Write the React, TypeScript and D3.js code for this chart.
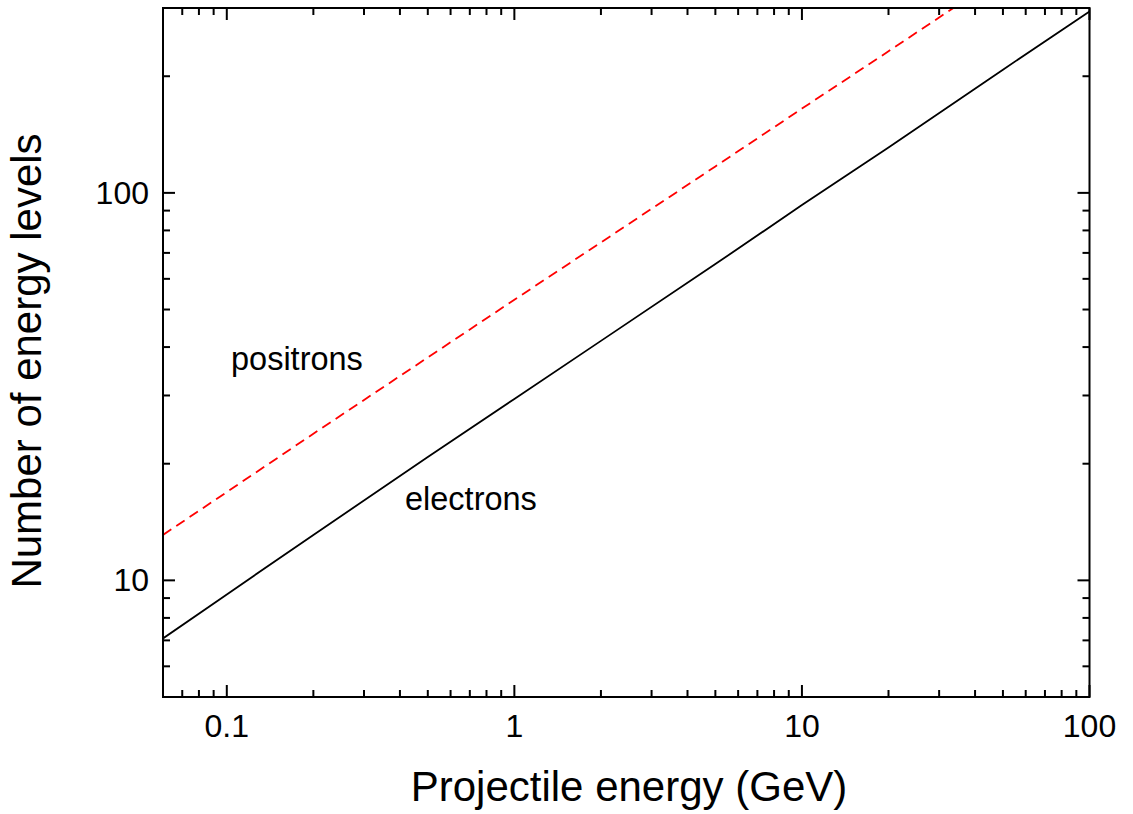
import React from "react";
import * as d3 from "d3";

const electronEnergy = [0.06, 0.1, 0.2, 0.5, 1, 2, 5, 10, 20, 50, 100];
const electronLevels = [7.08, 9.2, 13.1, 20.8, 29.4, 41.5, 65.5, 93, 131, 208, 294];
const positronEnergy = [0.06, 0.1, 0.2, 0.5, 1, 2, 5, 10, 20, 50, 100];
const positronLevels = [13.1, 16.9, 23.9, 37.6, 53, 74.5, 117, 165, 232, 365, 515];
const xTickLabels = ["0.1", "1", "10", "100"];
const yTickLabels = ["10", "100"];

const W = 1133;
const H = 814;
const m = { left: 163, right: 1089.5, top: 8, bottom: 697 };

export default function App() {
  const x = d3.scaleLog().domain([0.06, 100]).range([m.left, m.right]);
  const y = d3.scaleLog().domain([5, 300]).range([m.bottom, m.top]);

  const xMajor = xTickLabels.map(Number);
  const yMajor = yTickLabels.map(Number);
  const xMinor: number[] = [];
  for (const d of [0.01, 0.1, 1, 10]) for (let k = 2; k <= 9; k++) {
    const v = d * k;
    if (v >= 0.06 && v < 100) xMinor.push(v);
  }
  const yMinor: number[] = [];
  for (const d of [1, 10, 100]) for (let k = 2; k <= 9; k++) {
    const v = d * k;
    if (v >= 5 && v <= 300 && !yMajor.includes(v)) yMinor.push(v);
  }

  const line = d3
    .line<[number, number]>()
    .x((d) => x(d[0]))
    .y((d) => y(d[1]));
  const ePts = electronEnergy.map((e, i) => [e, electronLevels[i]] as [number, number]);
  const pPts = positronEnergy.map((e, i) => [e, positronLevels[i]] as [number, number]);

  const font = "'Liberation Sans', Arial, sans-serif";
  const majL = 12;
  const minL = 7;

  return (
    <svg width={W} height={H} style={{ position: "absolute", left: 0, top: 0 }} fontFamily={font}>
      <defs>
        <clipPath id="plot">
          <rect x={m.left} y={m.top} width={m.right - m.left} height={m.bottom - m.top} />
        </clipPath>
      </defs>
      <rect width={W} height={H} fill="white" />
      <g clipPath="url(#plot)">
        <path d={line(pPts) || ""} fill="none" stroke="#ff0000" strokeWidth={1.8} strokeDasharray="10,6" />
        <path d={line(ePts) || ""} fill="none" stroke="#000" strokeWidth={1.8} />
      </g>
      <g stroke="#000" strokeWidth={2}>
        {xMajor.map((v) => (
          <g key={"xM" + v}>
            <line x1={x(v)} x2={x(v)} y1={m.bottom} y2={m.bottom - majL} />
            <line x1={x(v)} x2={x(v)} y1={m.top} y2={m.top + majL} />
          </g>
        ))}
        {xMinor.map((v) => (
          <g key={"xm" + v}>
            <line x1={x(v)} x2={x(v)} y1={m.bottom} y2={m.bottom - minL} />
            <line x1={x(v)} x2={x(v)} y1={m.top} y2={m.top + minL} />
          </g>
        ))}
        {yMajor.map((v) => (
          <g key={"yM" + v}>
            <line x1={m.left} x2={m.left + majL} y1={y(v)} y2={y(v)} />
            <line x1={m.right} x2={m.right - majL} y1={y(v)} y2={y(v)} />
          </g>
        ))}
        {yMinor.map((v) => (
          <g key={"ym" + v}>
            <line x1={m.left} x2={m.left + minL} y1={y(v)} y2={y(v)} />
            <line x1={m.right} x2={m.right - minL} y1={y(v)} y2={y(v)} />
          </g>
        ))}
        <rect x={m.left} y={m.top} width={m.right - m.left} height={m.bottom - m.top} fill="none" />
      </g>
      <g fontSize={32} fill="#000">
        {xTickLabels.map((t) => (
          <text key={"xl" + t} x={x(+t)} y={737} textAnchor="middle">{t}</text>
        ))}
        {yTickLabels.map((t) => (
          <text key={"yl" + t} x={149} y={y(+t) + 11} textAnchor="end">{t}</text>
        ))}
      </g>
      <text x={231} y={370} fontSize={32.5}>positrons</text>
      <text x={405} y={510} fontSize={32.5}>electrons</text>
      <text x={629} y={801} fontSize={42} textAnchor="middle">Projectile energy (GeV)</text>
      <text transform={`translate(41,361) rotate(-90)`} fontSize={42} textAnchor="middle">Number of energy levels</text>
    </svg>
  );
}
